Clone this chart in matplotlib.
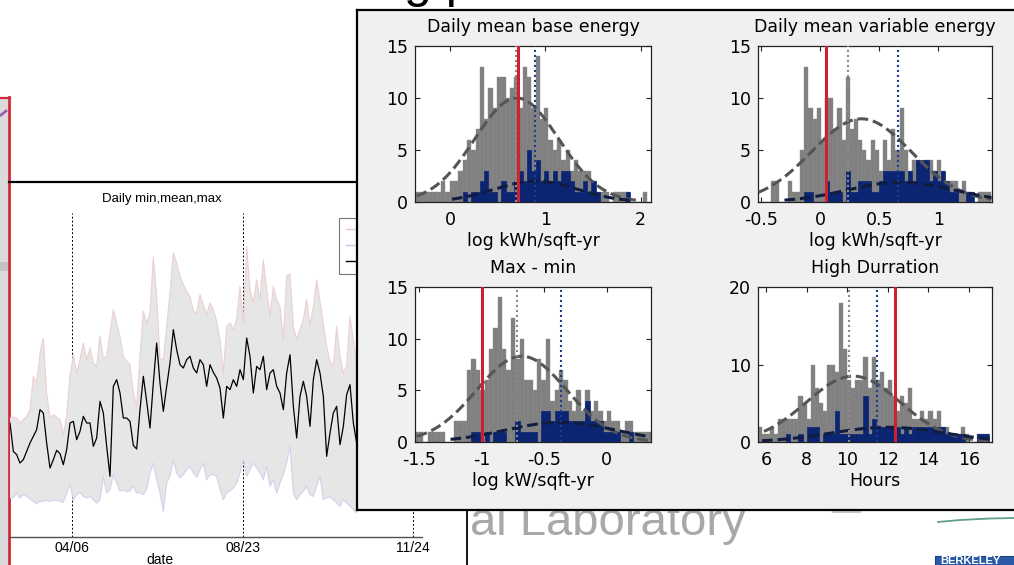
import numpy as np
import matplotlib
matplotlib.use('Agg')
import matplotlib.pyplot as plt
from matplotlib.lines import Line2D
from matplotlib.patches import Rectangle

plt.rcParams['axes.unicode_minus'] = False

W, H = 1014, 565

# ---------------- background time series (Daily min, mean, max) ----------------
mean_kw = [34.2, 25.7, 24.7, 22.2, 23.2, 25.7, 28.2, 30.2, 32.2, 38.2,
           37.2, 28.2, 20.7, 23.2, 26.0, 25.0, 21.7, 26.2, 34.2, 34.7,
           29.2, 31.7, 36.2, 34.2, 34.2, 27.2, 29.7, 40.7, 37.2, 27.2,
           18.2, 45.2, 47.2, 43.2, 35.7, 35.7, 34.7, 27.5, 26.4, 38.2,
           48.2, 40.7, 32.7, 46.2, 58.2, 46.2, 37.7, 45.2, 52.2, 62.2,
           56.2, 51.7, 50.7, 53.2, 54.2, 50.7, 49.2, 53.2, 51.7, 45.2,
           51.7, 49.4, 47.7, 44.7, 35.7, 45.2, 44.2, 47.2, 45.2, 50.2,
           47.2, 59.7, 54.2, 43.2, 51.2, 50.2, 54.2, 44.2, 49.2, 50.2,
           45.2, 43.2, 38.2, 49.2, 54.7, 39.2, 29.7, 42.2, 46.7, 42.2,
           33.2, 47.2, 53.2, 49.2, 42.2, 24.2, 31.2, 37.2, 39.2, 27.7,
           33.2, 42.7, 45.7, 34.2, 28.2]
max_kw = [35.7, 36.0, 35.7, 34.2, 35.2, 36.2, 38.2, 48.2, 46.2, 55.2,
          59.7, 43.2, 35.7, 36.7, 36.0, 35.2, 30.7, 36.2, 48.2, 54.7,
          49.2, 53.2, 58.2, 53.2, 56.7, 52.2, 51.2, 60.2, 53.7, 54.2,
          61.2, 68.2, 64.2, 60.2, 54.2, 52.7, 51.7, 43.2, 39.2, 54.2,
          67.7, 64.2, 67.2, 84.0, 72.2, 53.6, 53.2, 63.2, 73.2, 85.2,
          82.2, 78.2, 75.7, 73.7, 72.2, 67.7, 67.2, 72.7, 69.7, 66.7,
          70.2, 68.2, 64.7, 59.2, 49.2, 63.2, 64.2, 62.2, 65.2, 75.2,
          64.2, 87.2, 74.2, 70.2, 77.2, 71.2, 83.2, 74.2, 66.2, 75.2,
          71.2, 69.2, 59.2, 78.2, 78.9, 63.2, 59.2, 62.2, 65.2, 71.2,
          63.2, 69.2, 77.2, 70.7, 64.0, 57.2, 52.7, 51.2, 63.2, 54.2,
          49.2, 51.2, 66.2, 59.2, 51.2]
min_kw = [11.7, 11.7, 13.2, 11.7, 12.7, 12.2, 11.4, 10.7, 10.0, 10.7,
          10.7, 11.0, 10.7, 11.0, 11.0, 10.7, 10.4, 13.2, 15.7, 11.2,
          12.7, 13.4, 12.2, 11.7, 12.2, 11.2, 10.2, 11.2, 18.2, 13.2,
          14.2, 18.7, 16.2, 13.7, 14.2, 13.5, 13.9, 15.2, 13.2, 13.2,
          12.7, 14.2, 19.2, 22.2, 17.2, 13.2, 7.7, 16.2, 18.2, 23.2,
          19.2, 17.7, 18.7, 20.2, 21.2, 19.2, 17.9, 20.2, 22.2, 17.2,
          18.7, 18.7, 18.2, 14.2, 11.2, 13.2, 13.9, 14.7, 16.2, 19.2,
          23.2, 18.2, 20.2, 22.2, 20.7, 19.2, 17.2, 21.2, 15.2, 17.2,
          13.2, 16.2, 18.7, 22.2, 27.2, 13.2, 11.2, 12.7, 13.7, 15.2,
          12.7, 12.2, 15.2, 18.2, 11.2, 11.7, 12.0, 11.2, 10.2, 9.2,
          11.2, 10.2, 9.2, 8.2, 7.2]
days = np.arange(len(mean_kw))
date_ticks = [18.6, 69.9, 120.9]
date_labels = ['04/06', '08/23', '11/24']

# ---------------- histogram panels ----------------
titles = ['Daily mean base energy', 'Daily mean variable energy', 'Max - min', 'High Durration']
xlabels = ['log kWh/sqft-yr', 'log kWh/sqft-yr', 'log kW/sqft-yr', 'Hours']

bin_start = [-0.34, -0.50, -1.52, 5.7]
bin_width = [0.045, 0.035, 0.035, 0.2]

gray1 = [1, 1, 1, 1, 1, 1, 2, 1, 2, 2, 3, 4, 6, 5, 7, 13, 8, 11, 9, 12,
         12, 10, 11, 12, 9, 13, 12, 9, 14, 8, 9, 6, 5, 6, 4, 5, 3, 4, 3, 3,
         3, 2, 1, 1, 1, 0, 1, 1, 1, 1, 0, 0, 0, 1]
blue1 = [0, 0, 0, 0, 0, 0, 0, 0, 0, 0, 0, 1, 0, 1, 1, 2, 3, 1, 1, 0,
         2, 1, 1, 2, 3, 2, 5, 3, 4, 2, 3, 2, 3, 2, 3, 3, 2, 1, 1, 2,
         1, 2, 1, 0, 0, 0, 0, 0, 0, 1, 0, 0, 0, 0]
gray2 = [0, 0, 0, 2, 2, 0, 0, 2, 1, 1, 5, 13, 9, 8, 9, 6, 10, 10, 7, 9,
         6, 12, 7, 8, 6, 5, 4, 6, 5, 3, 6, 4, 7, 5, 9, 5, 3, 4, 4, 3,
         4, 4, 3, 4, 3, 2, 2, 2, 1, 2, 1, 1, 0, 1, 1, 1]
blue2 = [0, 0, 0, 0, 0, 0, 0, 0, 0, 0, 0, 1, 1, 0, 0, 0, 2, 1, 1, 1,
         0, 3, 1, 1, 2, 2, 2, 1, 1, 2, 3, 3, 3, 3, 3, 2, 3, 2, 4, 4,
         4, 2, 3, 2, 3, 2, 1, 1, 0, 0, 1, 1, 0, 0, 0, 0]
gray3 = [1, 1, 0, 1, 1, 1, 1, 0, 0, 2, 2, 2, 7, 8, 7, 5, 6, 9, 11, 14,
         9, 7, 12, 8, 10, 6, 6, 5, 8, 6, 10, 4, 5, 7, 6, 4, 3, 5, 3, 5,
         3, 4, 3, 2, 3, 2, 2, 1, 2, 2, 1, 1, 1, 1]
blue3 = [0, 0, 0, 0, 0, 0, 0, 0, 0, 0, 0, 0, 0, 1, 1, 0, 1, 0, 1, 1,
         1, 0, 0, 2, 1, 1, 1, 1, 0, 3, 3, 2, 3, 3, 3, 2, 2, 2, 2, 4,
         2, 2, 2, 1, 1, 1, 1, 0, 0, 1, 0, 0, 0, 0]
gray4 = [2, 1, 1, 2, 1, 3, 3, 3, 3, 3, 6, 5, 3, 10, 7, 5, 4, 10, 10, 9,
         18, 12, 8, 7, 8, 8, 11, 7, 11, 8, 9, 7, 8, 6, 4, 6, 5, 7, 3, 3,
         4, 3, 4, 3, 4, 2, 2, 1, 1, 1, 2, 1, 0, 0, 1, 1, 1]
blue4 = [0, 0, 0, 0, 0, 0, 0, 1, 0, 0, 1, 0, 2, 2, 2, 0, 1, 1, 1, 4,
         1, 1, 1, 1, 1, 1, 6, 1, 3, 2, 2, 2, 2, 2, 2, 1, 2, 1, 2, 2,
         2, 2, 2, 2, 2, 2, 1, 1, 1, 1, 1, 0, 0, 0, 1, 1, 1]
gray_counts = [gray1, gray2, gray3, gray4]
blue_counts = [blue1, blue2, blue3, blue4]

# fitted normal curves: (mean, std, peak, from, to)
gray_fit = [(0.70, 0.44, 10.0, -0.35, 1.95), (0.35, 0.42, 8.0, -0.52, 1.45),
            (-0.68, 0.36, 8.3, -1.52, 0.35), (10.3, 2.3, 8.5, 5.9, 17.0)]
blue_fit = [(0.90, 0.44, 2.0, 0.02, 1.90), (0.68, 0.45, 1.9, -0.30, 1.45),
            (-0.37, 0.44, 1.9, -1.25, 0.35), (12.0, 2.8, 1.9, 5.8, 17.0)]
building_value = [0.71, 0.05, -1.00, 12.35]
gray_mean = [0.69, 0.24, -0.72, 10.1]
blue_mean = [0.89, 0.66, -0.37, 11.45]

xlims = [(-0.367, 2.108), (-0.524, 1.454), (-1.534, 0.354), (5.606, 17.13)]
ylims = [(0, 15), (0, 15), (0, 15), (0, 20)]
xtick_vals = [[0, 1, 2], [-0.5, 0, 0.5, 1], [-1.5, -1, -0.5, 0], [6, 8, 10, 12, 14, 16]]
xtick_text = [['0', '1', '2'], ['-0.5', '0', '0.5', '1'], ['-1.5', '-1', '-0.5', '0'],
              ['6', '8', '10', '12', '14', '16']]
ytick_vals = [[0, 5, 10, 15], [0, 5, 10, 15], [0, 5, 10, 15], [0, 10, 20]]

# ---------------- figure ----------------
fig = plt.figure(figsize=(W / 100, H / 100), dpi=100)
fig.patch.set_facecolor('white')


def px(l, t, r, b):
    return [l / W, 1 - b / H, (r - l) / W, (b - t) / H]


# slide decorations (pixel coordinates)
bg = fig.add_axes([0, 0, 1, 1], zorder=0)
bg.set_xlim(0, W)
bg.set_ylim(H, 0)
bg.axis('off')
bg.add_patch(Rectangle((0, 97), 8, 470, facecolor='#dadada', edgecolor='none'))
bg.add_patch(Rectangle((0, 262), 8, 9, facecolor='#c2c2c2', edgecolor='none'))
bg.plot([1, 6], [115, 111], color='#9b5fb0', lw=2)
bg.plot([8.5, 8.5], [97, 565], color='#d2283a', lw=2)
bg.plot([0, 9.5], [97.5, 97.5], color='#d2283a', lw=1.6)
bg.plot([9, 360], [182, 182], color='black', lw=1.6)
bg.plot([467, 467], [505, 565], color='black', lw=1.3)
bg.text(470, 535, 'al Laboratory', fontsize=34, color='#a8a8a8',
        family='Liberation Sans', va='baseline', ha='left')
bg.text(404, -3, 'g p', fontsize=36, color='black',
        family='Liberation Sans', va='baseline', ha='left')
bg.plot([938, 960, 990, 1014], [522, 520, 518.5, 518], color='#5f9e90', lw=1.3)
bg.plot([833, 860], [511.5, 511.5], color='#c8c8c8', lw=1.5)
bg.add_patch(Rectangle((935, 556), 85, 12, facecolor='#2b5ba8', edgecolor='#1d3f7a', lw=0.8))
bg.text(940, 566, 'BERKELEY', fontsize=8, color='white', weight='bold',
        family='Liberation Sans', va='bottom', ha='left')

# time series axes
ts = fig.add_axes(px(10, 213, 422, 537), zorder=1)
ts.set_facecolor('none')
for s in ['left', 'top', 'right']:
    ts.spines[s].set_visible(False)
ts.spines['bottom'].set_color('#505050')
ts.spines['bottom'].set_linewidth(1.0)
ts.set_xlim(0, 123.6)
ts.set_ylim(0, 97.2)
ts.vlines(date_ticks, 0, 97.2, colors='black', linestyles=(0, (2, 2)), lw=0.7, zorder=1)
ts.fill_between(days, min_kw, max_kw, facecolor='#e6e6e6', edgecolor='none', zorder=2)
ts.plot(days, max_kw, color='#ecd0d0', lw=0.8, zorder=2.5)
ts.plot(days, min_kw, color='#d2d2ec', lw=0.8, zorder=2.5)
ts.plot(days, mean_kw, color='black', lw=0.9, zorder=3)
ts.set_xticks(date_ticks)
ts.set_xticklabels(date_labels, family='Liberation Sans', fontsize=10)
ts.tick_params(axis='x', length=0, pad=3)
ts.set_yticks([])
ts.text((162 - 10) / 412, 1 + 14 / 324, 'Daily min,mean,max', transform=ts.transAxes,
        ha='center', va='center', fontsize=9.5, family='Liberation Sans')
ts.text((160 - 10) / 412, -23 / 324, 'date', transform=ts.transAxes,
        ha='center', va='center', fontsize=10, family='Liberation Sans')
handles = [Line2D([], [], color='#ecc8c8', lw=1), Line2D([], [], color='#c8c8ec', lw=1),
           Line2D([], [], color='black', lw=1)]
leg = ts.legend(handles, ['max', 'min', 'mean'], loc='upper left',
                bbox_to_anchor=((339 - 10) / 412, (537 - 218) / 324),
                fontsize=8, frameon=True, fancybox=False, edgecolor='#555555',
                handlelength=3, borderpad=0.6, labelspacing=0.55, borderaxespad=0)
leg.get_frame().set_linewidth(0.8)

# overlay panel
panel = fig.add_axes(px(357, 10, 1022, 510), zorder=5)
panel.set_facecolor('#f0f0f0')
panel.set_xticks([])
panel.set_yticks([])
for s in panel.spines.values():
    s.set_linewidth(1.6)
    s.set_color('black')

rects = [px(415, 46, 651, 202), px(758, 46, 992, 202),
         px(415, 287, 651, 442), px(758, 287, 992, 442)]

FS = 12.5
for k in range(4):
    ax = fig.add_axes(rects[k], zorder=6)
    ax.set_facecolor('white')
    g = np.array(gray_counts[k], dtype=float)
    b = np.array(blue_counts[k], dtype=float)
    centers = bin_start[k] + bin_width[k] * np.arange(len(g))
    ax.bar(centers, g, width=bin_width[k], color='#808080', edgecolor='#8e8e8e',
           linewidth=0.3, zorder=2)
    ax.bar(centers, b, width=bin_width[k], color='#0b2573', edgecolor='#0b2573',
           linewidth=0.5, zorder=3)
    mu, sd, pk, x0, x1 = gray_fit[k]
    xs = np.linspace(x0, x1, 200)
    ax.plot(xs, pk * np.exp(-0.5 * ((xs - mu) / sd) ** 2), color='#555555', lw=2.2,
            dashes=(3.5, 1.6), zorder=4)
    mu, sd, pk, x0, x1 = blue_fit[k]
    xs = np.linspace(x0, x1, 200)
    ax.plot(xs, pk * np.exp(-0.5 * ((xs - mu) / sd) ** 2), color='#101c40', lw=2.2,
            dashes=(3.5, 1.6), zorder=4)
    ax.axvline(gray_mean[k], color='#8a8a8a', ls=(0, (1, 1.4)), lw=1.5, zorder=5)
    ax.axvline(blue_mean[k], color='#1c3d8f', ls=(0, (1, 1.4)), lw=1.5, zorder=5)
    ax.axvline(building_value[k], color='#d01f2f', lw=2.2, zorder=6)
    ax.set_xlim(*xlims[k])
    ax.set_ylim(*ylims[k])
    ax.set_xticks(xtick_vals[k])
    ax.set_xticklabels(xtick_text[k])
    ax.set_yticks(ytick_vals[k])
    ax.tick_params(direction='in', length=3.5, width=0.8, top=True, right=True,
                   labelsize=FS, colors='#222222', labelcolor='black')
    ax.tick_params(axis='x', pad=6.5)
    ax.tick_params(axis='y', pad=5)
    for s in ax.spines.values():
        s.set_color('#222222')
        s.set_linewidth(0.9)
    ax.set_title(titles[k], fontsize=FS, pad=10)
    ax.set_xlabel(xlabels[k], fontsize=FS, labelpad=2)

fig.savefig('out.png', dpi=100)
